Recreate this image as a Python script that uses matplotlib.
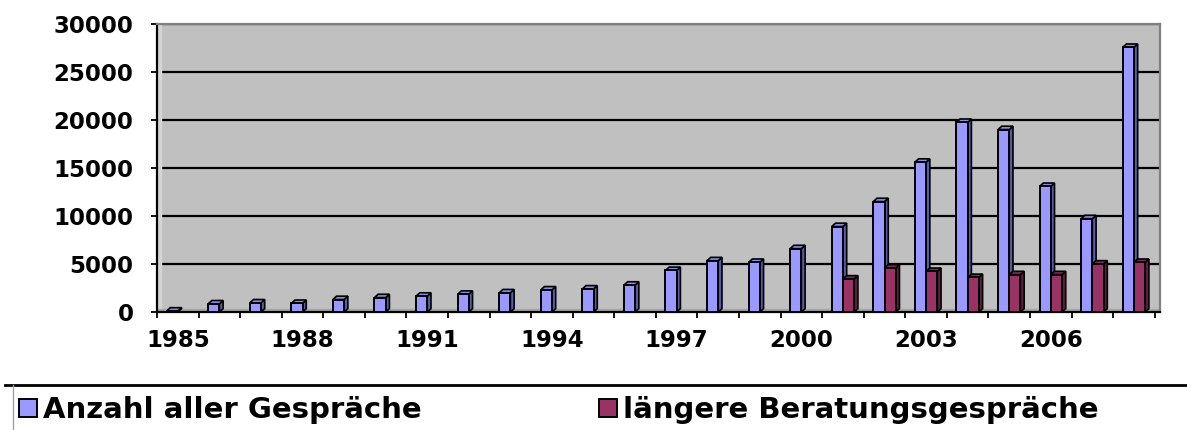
import numpy as np
import matplotlib
matplotlib.use("Agg")
import matplotlib.pyplot as plt
from matplotlib.lines import Line2D

# Daten
jahre = list(range(1985, 2009))
alle_gespraeche = [100, 850, 950, 900, 1300, 1500, 1650, 1850, 2000, 2300, 2400, 2800,
                   4330, 5340, 5170, 6600, 8900, 11500, 15600, 19750, 19000, 13080, 9720, 27560]
laengere_gespraeche = [np.nan] * 16 + [3440, 4580, 4230, 3600, 3890, 3890, 5000, 5170]
namen = ["Anzahl aller Gespräche", "längere Beratungsgespräche"]
beschriftete_jahre = jahre[::3]

plt.rcParams['font.family'] = ['DejaVu Sans']
plt.rcParams['font.weight'] = 'bold'

fig = plt.figure(figsize=(11.87, 4.30), dpi=100)
ax = fig.add_axes([0.1323, 0.2744, 0.8447, 0.670])

x = np.arange(len(jahre))
breite = 0.27
tiefe_x = 0.09
tiefe_y = 350


# zeichnet einen Balken mit einfachem 3D-Effekt (Seite + Deckel)
def balken_3d(links, hoehe, farbe, seite, deckel, label=None):
    ax.bar(links, hoehe, width=breite, align='edge', color=farbe,
           edgecolor='black', linewidth=1.4, zorder=3, label=label)
    for l, h in zip(links, hoehe):
        if np.isnan(h):
            continue
        r = l + breite
        ax.fill([r, r + tiefe_x, r + tiefe_x, r], [0, tiefe_y, h + tiefe_y, h],
                facecolor=seite, edgecolor='black', linewidth=1.2, zorder=2.9)
        ax.fill([l, l + tiefe_x, r + tiefe_x, r], [h, h + tiefe_y, h + tiefe_y, h],
                facecolor=deckel, edgecolor='black', linewidth=1.2, zorder=2.9)


balken_3d(x - breite, np.array(alle_gespraeche, dtype=float), '#9999FF', '#5C5CA8', '#8A8AEE',
          label=namen[0])
balken_3d(x + 0.0, np.array(laengere_gespraeche, dtype=float), '#993366', '#5E1F40', '#7F2A55',
          label=namen[1])

ax.set_facecolor('#C0C0C0')
ax.set_xlim(-0.5, 23.62)
ax.set_ylim(0, 30000)
# Seitenwand und Boden
ax.axvspan(-0.5, -0.5 + tiefe_x, color='#D4D4D4', zorder=1.5)
ax.axhspan(0, tiefe_y, color='#A6A6A6', zorder=1.5)

ax.set_yticks(range(0, 30001, 5000))
ax.yaxis.grid(True, color='black', linewidth=1.6, zorder=1)
ax.set_axisbelow(True)

ax.set_xticks([x[jahre.index(j)] for j in beschriftete_jahre])
ax.set_xticklabels([str(j) for j in beschriftete_jahre])
ax.set_xticks(np.arange(-0.5, 24, 1), minor=True)
ax.tick_params(axis='x', which='major', length=0, pad=12, labelsize=16.5)
ax.tick_params(axis='x', which='minor', length=4, width=1.3, direction='out')
ax.tick_params(axis='y', length=4, width=1.3, pad=13, labelsize=16.5)

for s in ['left', 'bottom']:
    ax.spines[s].set_color('black')
    ax.spines[s].set_linewidth(1.6)
for s in ['top', 'right']:
    ax.spines[s].set_color('#808080')
    ax.spines[s].set_linewidth(1.6)

# Legende
fig.add_artist(Line2D([0.004, 1.0], [0.105, 0.105], color='black', linewidth=2,
                      transform=fig.transFigure))
fig.add_artist(Line2D([0.011, 0.011], [0.105, 0.0], color='#A0A0A0', linewidth=1,
                      transform=fig.transFigure))
fig.legend(loc='center left', bbox_to_anchor=(0.006, 0.046), ncol=2, frameon=False,
           fontsize=21, handlelength=0.62, handleheight=0.62, handletextpad=0.2,
           columnspacing=6.1, borderaxespad=0)

fig.savefig('out.png', dpi=100)
